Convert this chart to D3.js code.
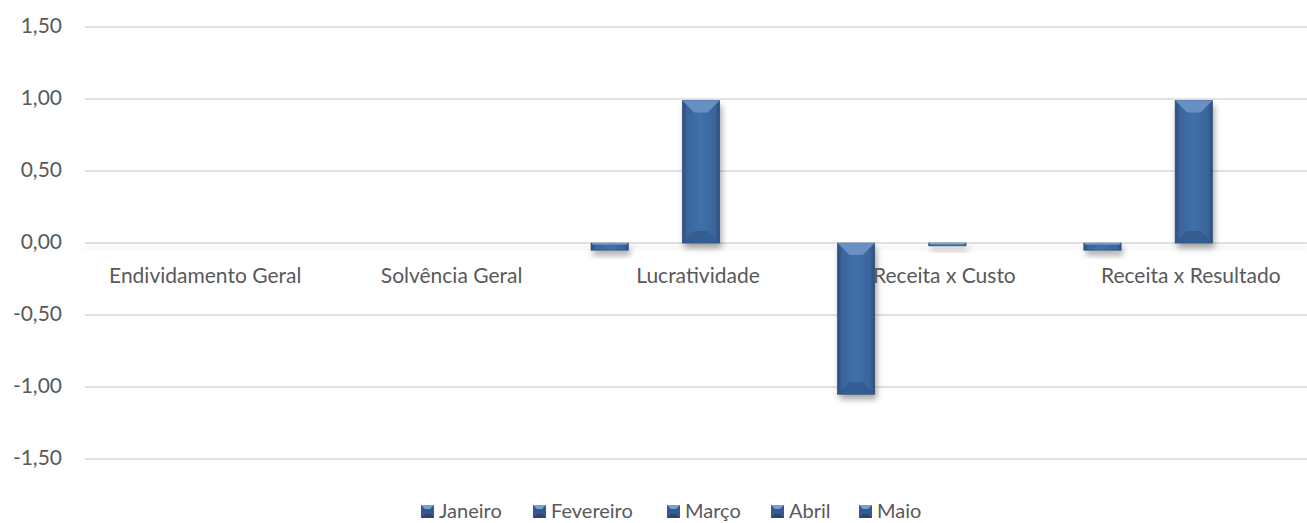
<!DOCTYPE html>
<html>
<head>
<meta charset="utf-8">
<script src="https://d3js.org/d3.v7.min.js"></script>
<style>
  body { margin: 0; background: #fff; }
  text { font-family: Lato, "Open Sans", sans-serif; fill: #595959; }
</style>
</head>
<body>
<div id="chart"></div>
<script>
// data
var categories = ["Endividamento Geral", "Solvência Geral", "Lucratividade", "Receita x Custo", "Receita x Resultado"];
var series = ["Janeiro", "Fevereiro", "Março", "Abril", "Maio"];
var janeiro   = [0, 0, -0.05, -1.05, -0.05];
var fevereiro = [0, 0, 0, 0, 0];
var marco     = [0, 0, 0.99, -0.02, 0.99];
var abril     = [0, 0, 0, 0, 0];
var maio      = [0, 0, 0, 0, 0];
var yTicks = [-1.5, -1, -0.5, 0, 0.5, 1, 1.5];

var values = [janeiro, fevereiro, marco, abril, maio];

var W = 1307, H = 523;
var svg = d3.select("#chart").append("svg").attr("width", W).attr("height", H);

var defs = svg.append("defs");
var grad = defs.append("linearGradient").attr("id", "barGrad")
  .attr("x1", "0%").attr("x2", "100%").attr("y1", "0%").attr("y2", "0%");
grad.append("stop").attr("offset", "0%").attr("stop-color", "#2c4d7c");
grad.append("stop").attr("offset", "12%").attr("stop-color", "#3a649c");
grad.append("stop").attr("offset", "50%").attr("stop-color", "#4070aa");
grad.append("stop").attr("offset", "88%").attr("stop-color", "#3a649c");
grad.append("stop").attr("offset", "100%").attr("stop-color", "#2c4d7c");
var blur = defs.append("filter").attr("id", "shadow")
  .attr("x", "-50%").attr("y", "-50%").attr("width", "200%").attr("height", "200%");
blur.append("feGaussianBlur").attr("stdDeviation", 3);

var x0 = d3.scaleBand().domain(categories).range([85, 1317]);
var x1 = d3.scaleBand().domain(series).range([0, 220]).paddingInner(8 / 44);
var y = d3.scaleLinear().domain([-1.5, 1.5]).range([459, 27]);

// gridlines
svg.append("g").selectAll("line").data(yTicks).enter().append("line")
  .attr("x1", 85).attr("x2", W)
  .attr("y1", d => y(d)).attr("y2", d => y(d))
  .attr("stroke", "#d9d9d9").attr("stroke-width", 1.3);

// y axis labels
var fmt = d => d3.format(".2f")(d).replace(".", ",").replace("−", "-");
var yAxis = svg.append("g").attr("transform", "translate(62,-1)")
  .call(d3.axisLeft(y).tickValues(yTicks).tickSize(0).tickPadding(0).tickFormat(fmt));
yAxis.select(".domain").remove();
yAxis.selectAll("text").style("font-size", "21px").attr("fill", "#595959")
  .style("font-family", "Lato, 'Open Sans', sans-serif");

// shadow along zero line
svg.append("rect").attr("x", 85).attr("y", y(0) + 2).attr("width", W - 85).attr("height", 4)
  .attr("fill", "#000").attr("opacity", 0.06).attr("filter", "url(#shadow)");

// bars
var bars = [];
categories.forEach(function (c, ci) {
  series.forEach(function (s, si) {
    var v = values[si][ci];
    if (v !== 0) bars.push({ c: c, s: s, v: v });
  });
});
var off = (x0.bandwidth() - 220) / 2;
var g = svg.append("g");
var bg = g.selectAll("g.bar").data(bars).enter().append("g").attr("class", "bar")
  .attr("transform", d => "translate(" + (x0(d.c) + off + x1(d.s)) + ",0)");
var bw = x1.bandwidth();
bg.append("rect")
  .attr("x", 2).attr("width", bw)
  .attr("y", d => Math.min(y(d.v), y(0)) + 5)
  .attr("height", d => Math.abs(y(d.v) - y(0)))
  .attr("fill", "#000").attr("opacity", 0.35).attr("filter", "url(#shadow)");
bg.append("rect")
  .attr("x", 0).attr("width", bw)
  .attr("y", d => Math.min(y(d.v), y(0)))
  .attr("height", d => Math.max(2, Math.abs(y(d.v) - y(0))))
  .attr("fill", "url(#barGrad)").attr("stroke", "#2b4a75").attr("stroke-width", 0.6);
// bevels
bg.filter(d => Math.abs(y(d.v) - y(0)) > 20).each(function (d) {
  var top = Math.min(y(d.v), y(0)), bot = Math.max(y(d.v), y(0));
  var b = 12;
  var sel = d3.select(this);
  sel.append("path").attr("d", "M0," + top + "L" + bw + "," + top + "L" + (bw - b) + "," + (top + b) + "L" + b + "," + (top + b) + "Z")
    .attr("fill", "#6e93c9").attr("opacity", 0.9);
  sel.append("path").attr("d", "M0," + bot + "L" + bw + "," + bot + "L" + (bw - b) + "," + (bot - b) + "L" + b + "," + (bot - b) + "Z")
    .attr("fill", "#325a8d").attr("opacity", 0.8);
});
// thin bars
bg.filter(d => Math.abs(y(d.v) - y(0)) <= 20).append("rect")
  .attr("x", 1).attr("width", bw - 2)
  .attr("y", d => Math.min(y(d.v), y(0)))
  .attr("height", 1.5).attr("fill", "#7aa0d6");

// category labels
svg.append("g").selectAll("text").data(categories).enter().append("text")
  .attr("x", d => x0(d) + x0.bandwidth() / 2 - 3)
  .attr("y", 283)
  .attr("text-anchor", "middle")
  .style("font-size", "21px")
  .text(d => d);

// legend
var legendX = [421, 533, 667, 771, 859];
var lg = svg.append("g").selectAll("g").data(series).enter().append("g")
  .attr("transform", (d, i) => "translate(" + legendX[i] + ",505)");
lg.append("rect").attr("width", 13).attr("height", 13).attr("fill", "#34598a");
lg.append("path").attr("d", "M0,0L13,0L9,4L4,4Z").attr("fill", "#79a0d8");
lg.append("path").attr("d", "M0,13L13,13L9,9L4,9Z").attr("fill", "#2a4670");
lg.append("text").attr("x", 18).attr("y", 13).style("font-size", "20px").text(d => d);
</script>
</body>
</html>
